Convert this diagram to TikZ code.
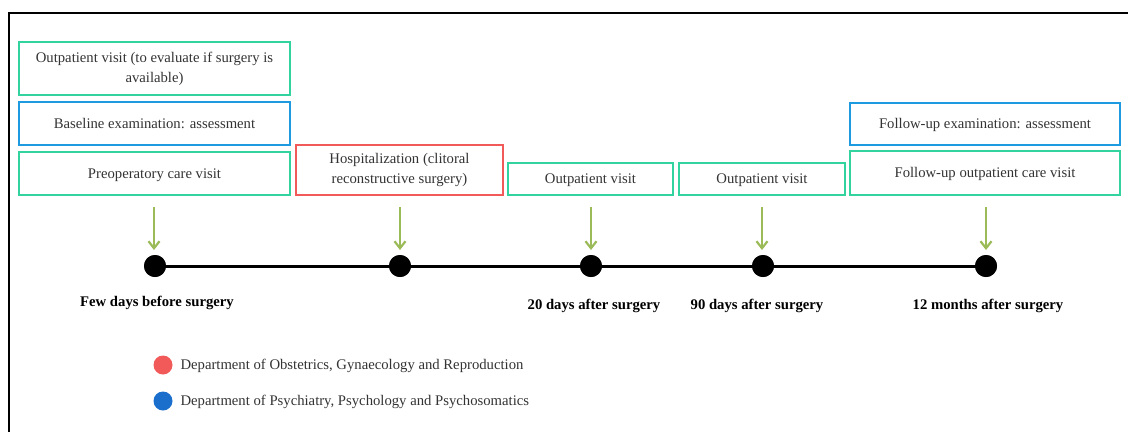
\documentclass[tikz,border=0pt]{standalone}
\usepackage{fontspec}
\setmainfont{Liberation Serif}
\usetikzlibrary{arrows.meta}
\definecolor{cgreen}{HTML}{33D3A0}
\definecolor{cblue}{HTML}{1E9BE0}
\definecolor{cred}{HTML}{F25A5A}
\definecolor{carrow}{HTML}{9BBB59}
\definecolor{ctext}{HTML}{333333}
\definecolor{clegblue}{HTML}{1A6FCC}
\begin{document}
\begin{tikzpicture}[x=1pt,y=-1pt,
  box/.style={draw=#1,line width=2pt,minimum height=0pt,inner sep=0pt,align=center,text=ctext,font=\fontsize{14.7}{20}\selectfont},
  oneline/.style={text height=12.5pt,text depth=3.5pt},
  dot/.style={circle,fill=black,inner sep=0pt,minimum size=22pt},
  when/.style={font=\bfseries\fontsize{14.7}{18}\selectfont,text=black},
  arr/.style={draw=carrow,line width=2.2pt,-{Straight Barb[length=7pt,width=11pt,line width=2.2pt]}},
  legtext/.style={font=\fontsize{14.7}{18}\selectfont,text=ctext,anchor=west}]
\useasboundingbox (0,0) rectangle (1128,432);
\draw[line width=2pt] (9,432) -- (9,13) -- (1128,13);
% boxes
\node[box=cgreen,minimum width=271pt,minimum height=53pt] (b1) at (154.5,68.5) {Outpatient visit (to evaluate if surgery is\\available)};
\node[box=cblue,oneline,minimum width=271pt,minimum height=43pt] (b2) at (154.5,123.5) {Baseline examination: assessment};
\node[box=cgreen,oneline,minimum width=271pt,minimum height=43pt] (b3) at (154.5,173.5) {Preoperatory care visit};
\node[box=cred,minimum width=207pt,minimum height=50pt] (b4) at (399.5,170) {Hospitalization (clitoral\\reconstructive surgery)};
\node[box=cgreen,oneline,minimum width=165pt,minimum height=32pt] (b5) at (590.5,179) {Outpatient visit};
\node[box=cgreen,oneline,minimum width=166pt,minimum height=32pt] (b6) at (762,179) {Outpatient visit};
\node[box=cblue,oneline,minimum width=270pt,minimum height=42pt] (b7) at (985,124) {Follow-up examination: assessment};
\node[box=cgreen,oneline,minimum width=270pt,minimum height=44pt] (b8) at (985,173) {Follow-up outpatient care visit};
% timeline
\node[dot] (d1) at (155,266) {};
\node[dot] (d2) at (400,266) {};
\node[dot] (d3) at (591,266) {};
\node[dot] (d4) at (763,266) {};
\node[dot] (d5) at (986,266) {};
\draw[line width=3pt] (d1.center) -- (d5.center);
\foreach \d in {d1,d2,d3,d4,d5} \node[dot] at (\d) {};
% arrows
\coordinate (a1) at (154,207);
\coordinate (a2) at (400,207);
\coordinate (a3) at (591,207);
\coordinate (a4) at (762,207);
\coordinate (a5) at (986,207);
\draw[arr] (a1) -- (154,250);
\draw[arr] (a2) -- (400,250);
\draw[arr] (a3) -- (591,250);
\draw[arr] (a4) -- (762,250);
\draw[arr] (a5) -- (986,250);
% labels
\node[when] (l1) at (157,303) {Few days before surgery};
\node[when] (l3) at (594,306) {20 days after surgery};
\node[when] (l4) at (757,306) {90 days after surgery};
\node[when] (l5) at (988,306) {12 months after surgery};
% legend
\node[circle,fill=cred,inner sep=0pt,minimum size=19pt] (r) at (163,365) {};
\node[legtext] (rt) at (177,366) {Department of Obstetrics, Gynaecology and Reproduction};
\node[circle,fill=clegblue,inner sep=0pt,minimum size=19pt] (bl) at (163,401) {};
\node[legtext] (blt) at (177,402) {Department of Psychiatry, Psychology and Psychosomatics};
\end{tikzpicture}
\end{document}
